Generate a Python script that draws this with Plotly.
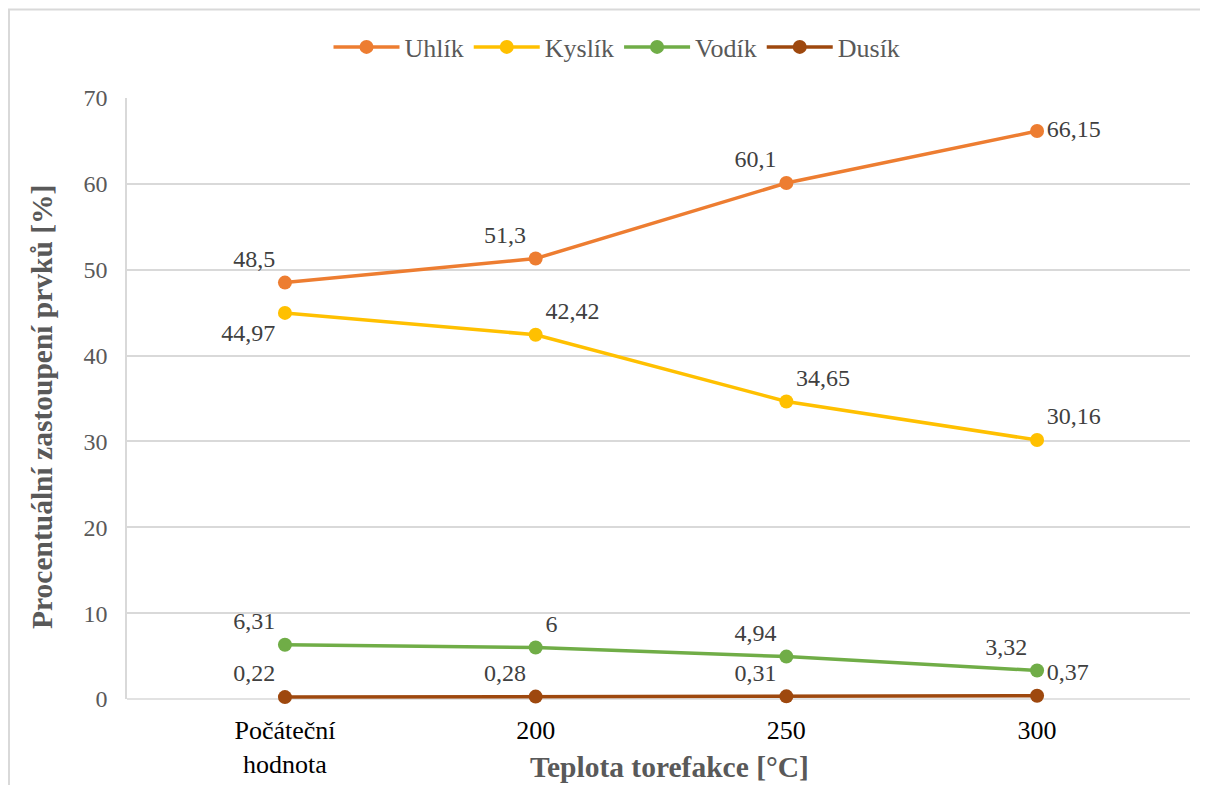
import plotly.graph_objects as go

categories = ["Počáteční<br>hodnota", "200", "250", "300"]
uhlik = [48.5, 51.3, 60.1, 66.15]
kyslik = [44.97, 42.42, 34.65, 30.16]
vodik = [6.31, 6.0, 4.94, 3.32]
dusik = [0.22, 0.28, 0.31, 0.37]

series = [
    ("Uhlík", uhlik, "#ED7D31", ["top left", "top left", "top left", "middle right"]),
    ("Kyslík", kyslik, "#FFC000", ["bottom left", "top right", "top right", "top right"]),
    ("Vodík", vodik, "#70AD47", ["top left", "top right", "top left", "top left"]),
    ("Dusík", dusik, "#9E480E", ["top left", "top left", "top left", "top right"]),
]

FONT = "Liberation Serif"

def fmt(v):
    return ("%g" % v).replace(".", ",")

fig = go.Figure()
xs = list(range(len(categories)))
for name, vals, color, pos in series:
    fig.add_trace(go.Scatter(
        x=xs, y=vals, name=name, mode="lines+markers+text",
        line=dict(color=color, width=3.5),
        marker=dict(color=color, size=14),
        text=[fmt(v) for v in vals],
        textposition=pos,
        textfont=dict(family=FONT, size=24, color="#404040"),
        cliponaxis=False,
    ))

# page body has an 8px margin: work in reference pixel coords, shifted by OFF
OFF = 8
FW, FH = 1200, 777
W0, W1 = 127 - OFF, 1190 - OFF
Y0, Y1 = 699 - OFF, 98 - OFF
def px(x):
    return (x - OFF - W0) / (W1 - W0)
def py(y):
    return (Y0 - (y - OFF)) / (Y0 - Y1)

fig.update_layout(
    width=FW, height=FH,
    margin=dict(l=W0, r=FW - W1, t=Y1, b=FH - Y0, autoexpand=False),
    paper_bgcolor="white", plot_bgcolor="white",
    font=dict(family=FONT, color="#595959"),
    legend=dict(orientation="h", x=px(617), xanchor="center", y=py(47), yanchor="middle",
                font=dict(family=FONT, size=26, color="#595959"), itemwidth=66, traceorder="normal"),
    xaxis=dict(
        tickvals=xs, ticktext=categories, range=[-0.63, 3.61],
        showgrid=False, zeroline=False, showline=False, automargin=False,
        tickfont=dict(family=FONT, size=26, color="#000000"),
        ticks="outside", ticklen=8, tickcolor="rgba(0,0,0,0)",
    ),
    yaxis=dict(
        range=[0, 70], dtick=10, showgrid=True, gridcolor="#D9D9D9", gridwidth=1.5,
        zeroline=False, showline=True, linecolor="#D9D9D9", linewidth=1.5, automargin=False,
        tickfont=dict(family=FONT, size=24, color="#595959"),
        ticks="outside", ticklen=13, tickcolor="rgba(0,0,0,0)",
    ),
    showlegend=True,
)
fig.add_annotation(text="<b>Teplota torefakce [°C]</b>", xref="paper", yref="paper",
                   x=px(669), y=py(767), showarrow=False, xanchor="center", yanchor="middle",
                   font=dict(family=FONT, size=29.5, color="#595959"))
fig.add_annotation(text="<b>Procentuální zastoupení prvků [%]</b>", xref="paper", yref="paper",
                   x=px(42), y=py(407), showarrow=False, xanchor="center", yanchor="middle", textangle=-90,
                   font=dict(family=FONT, size=29.5, color="#595959"))
fig.add_shape(type="line", xref="paper", yref="paper", x0=0, x1=1, y0=0, y1=0,
              line=dict(color="#D9D9D9", width=1.5), layer="below")
fig.add_shape(type="rect", xref="paper", yref="paper",
              x0=px(9), x1=px(1215), y0=py(800), y1=py(9.5),
              line=dict(color="#D9D9D9", width=2), layer="below")

fig.write_html("out.html")
